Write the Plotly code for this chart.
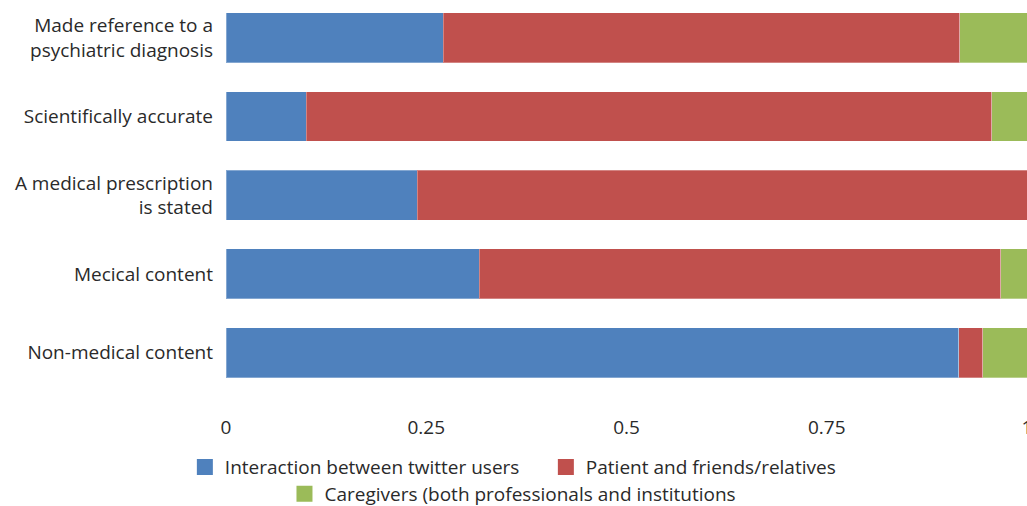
import plotly.graph_objects as go

categories = [
    "Made reference to a<br>psychiatric diagnosis",
    "Scientifically accurate",
    "A medical prescription<br>is stated",
    "Mecical content",
    "Non-medical content",
]
interaction = [0.271, 0.100, 0.239, 0.316, 0.915]
patients = [0.645, 0.856, 0.761, 0.651, 0.030]
caregivers = [0.084, 0.044, 0.000, 0.033, 0.055]

series_names = [
    "Interaction between twitter users",
    "Patient and friends/relatives",
    "Caregivers (both professionals and institutions",
]
series_colors = ["#4F81BD", "#C0504D", "#9BBB59"]

tick_vals = [0, 0.25, 0.5, 0.75, 1]
tick_text = ["0", "0.25", "0.5", "0.75", "1"]

FONT = "Open Sans"
TEXT = "#2a2a2a"
SIZE = 19

fig = go.Figure()
for vals, name, color in zip([interaction, patients, caregivers], series_names, series_colors):
    fig.add_trace(go.Bar(y=categories, x=vals, orientation="h", name=name,
                         marker=dict(color=color,
                                     line=dict(width=1, color="rgba(255,255,255,0.3)")),
                         width=0.635, showlegend=False))

# legend swatches: square markers, larger than the default bar swatch
for i, (name, color) in enumerate(zip(series_names, series_colors)):
    fig.add_trace(go.Scatter(x=[None], y=[None], mode="markers", name=name,
                             marker=dict(symbol="square", size=20, color=color),
                             legend="legend" if i < 2 else "legend2"))

fig.update_layout(
    barmode="stack",
    width=1027, height=506,
    margin=dict(l=226, r=0, t=0, b=114, autoexpand=False),
    paper_bgcolor="white", plot_bgcolor="white",
    font=dict(family=FONT, size=SIZE, color=TEXT),
    legend=dict(orientation="h", xref="container", yref="container",
                x=0.180, y=0.077, xanchor="left", yanchor="middle",
                font=dict(size=SIZE, color=TEXT), traceorder="normal",
                entrywidth=316, itemsizing="trace"),
    legend2=dict(orientation="h", xref="container", yref="container",
                 x=0.277, y=0.024, xanchor="left", yanchor="middle",
                 font=dict(size=SIZE, color=TEXT), itemsizing="trace"),
)
fig.update_xaxes(range=[0, 1], tickvals=tick_vals, ticktext=tick_text,
                 showgrid=False, zeroline=False, showline=False,
                 ticklabelstandoff=22, ticklabeloverflow="allow",
                 automargin=False,
                 tickfont=dict(size=SIZE, color=TEXT))
fig.update_yaxes(categoryorder="array", categoryarray=categories,
                 range=[4.5, -0.48], showgrid=False, zeroline=False,
                 showline=False, ticklabelstandoff=12, automargin=False,
                 tickfont=dict(size=SIZE, color=TEXT))

fig.write_html("out.html")
